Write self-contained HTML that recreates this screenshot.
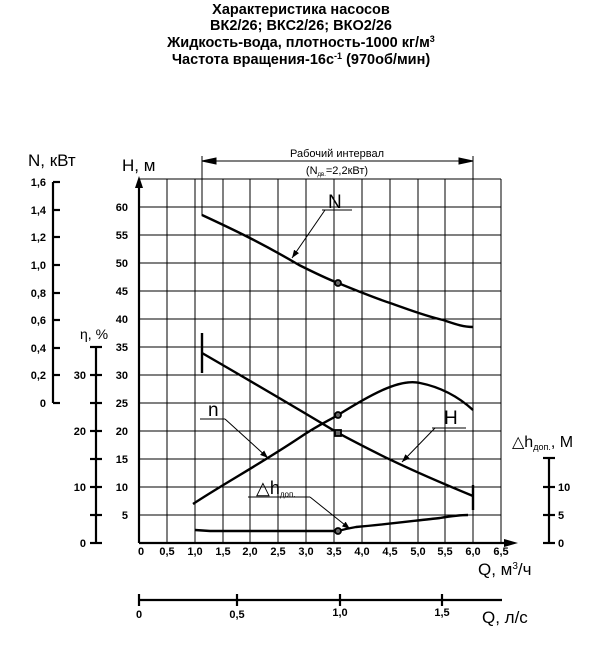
<!DOCTYPE html>
<html><head><meta charset="utf-8"><style>
html,body{margin:0;padding:0;background:#fff}
svg{display:block}
text{font-family:"Liberation Sans",sans-serif;fill:#000}
.t{font-weight:bold;font-size:14.5px}
.tk{font-weight:bold;font-size:11px}
.lb{font-size:17px}
</style></head><body>
<svg width="602" height="651" viewBox="0 0 602 651" xmlns="http://www.w3.org/2000/svg">
<defs><marker id="ar" markerWidth="8" markerHeight="6" refX="8" refY="3" orient="auto"><path d="M0,0 L8,3 L0,6 Z" fill="#000"/></marker></defs>
<g text-anchor="middle">
<text class="t" x="301" y="14">Характеристика насосов</text>
<text class="t" x="301" y="30">ВК2/26; ВКС2/26; ВКО2/26</text>
<text class="t" x="301" y="47">Жидкость-вода, плотность-1000 кг/м<tspan font-size="9" dy="-5">3</tspan></text>
<text class="t" x="301" y="64">Частота вращения-16с<tspan font-size="9" dy="-5">-1</tspan><tspan dy="5"> (970об/мин)</tspan></text>
</g>
<g stroke="#000" stroke-width="1">
<line x1="167" y1="179" x2="167" y2="543"/><line x1="195" y1="179" x2="195" y2="543"/><line x1="223" y1="179" x2="223" y2="543"/><line x1="250" y1="179" x2="250" y2="543"/><line x1="278" y1="179" x2="278" y2="543"/><line x1="306" y1="179" x2="306" y2="543"/><line x1="334" y1="179" x2="334" y2="543"/><line x1="362" y1="179" x2="362" y2="543"/><line x1="390" y1="179" x2="390" y2="543"/><line x1="418" y1="179" x2="418" y2="543"/><line x1="445" y1="179" x2="445" y2="543"/><line x1="473" y1="179" x2="473" y2="543"/><line x1="501" y1="179" x2="501" y2="543"/>
<line x1="139" y1="179" x2="501" y2="179"/><line x1="139" y1="207" x2="501" y2="207"/><line x1="139" y1="235" x2="501" y2="235"/><line x1="139" y1="263" x2="501" y2="263"/><line x1="139" y1="291" x2="501" y2="291"/><line x1="139" y1="319" x2="501" y2="319"/><line x1="139" y1="347" x2="501" y2="347"/><line x1="139" y1="375" x2="501" y2="375"/><line x1="139" y1="403" x2="501" y2="403"/><line x1="139" y1="431" x2="501" y2="431"/><line x1="139" y1="459" x2="501" y2="459"/><line x1="139" y1="487" x2="501" y2="487"/><line x1="139" y1="515" x2="501" y2="515"/>
</g>
<g stroke="#000" stroke-width="2.2" fill="none">
<line x1="139" y1="543" x2="139" y2="186"/><path d="M139,176 L135,188 L143,188 Z" fill="#000" stroke="none"/>
<line x1="139" y1="543" x2="506" y2="543"/><path d="M518,543 L504,539 L504,547 Z" fill="#000" stroke="none"/>
</g>
<g text-anchor="end">
<text class="tk" x="128" y="211">60</text><text class="tk" x="128" y="239">55</text><text class="tk" x="128" y="267">50</text><text class="tk" x="128" y="295">45</text><text class="tk" x="128" y="323">40</text><text class="tk" x="128" y="351">35</text><text class="tk" x="128" y="379">30</text><text class="tk" x="128" y="407">25</text><text class="tk" x="128" y="435">20</text><text class="tk" x="128" y="463">15</text><text class="tk" x="128" y="491">10</text><text class="tk" x="128" y="519">5</text>
</g>
<g text-anchor="middle">
<text class="tk" x="141" y="555">0</text><text class="tk" x="167" y="555">0,5</text><text class="tk" x="195" y="555">1,0</text><text class="tk" x="223" y="555">1,5</text><text class="tk" x="250" y="555">2,0</text><text class="tk" x="278" y="555">2,5</text><text class="tk" x="306" y="555">3,0</text><text class="tk" x="334" y="555">3,5</text><text class="tk" x="362" y="555">4,0</text><text class="tk" x="390" y="555">4,5</text><text class="tk" x="418" y="555">5,0</text><text class="tk" x="445" y="555">5,5</text><text class="tk" x="473" y="555">6,0</text><text class="tk" x="501" y="555">6,5</text>
</g>
<text class="lb" x="478" y="575">Q, м<tspan font-size="10" dy="-6">3</tspan><tspan dy="6">/ч</tspan></text>
<text class="lb" x="122" y="171">H, м</text>
<g stroke="#000" stroke-width="2.2">
<line x1="53" y1="182" x2="53" y2="403"/>
<line x1="53" y1="182" x2="60" y2="182"/><line x1="53" y1="210" x2="60" y2="210"/><line x1="53" y1="237" x2="60" y2="237"/><line x1="53" y1="265" x2="60" y2="265"/><line x1="53" y1="293" x2="60" y2="293"/><line x1="53" y1="320" x2="60" y2="320"/><line x1="53" y1="348" x2="60" y2="348"/><line x1="53" y1="375" x2="60" y2="375"/><line x1="53" y1="403" x2="60" y2="403"/>
</g>
<g text-anchor="end">
<text class="tk" x="46" y="186">1,6</text><text class="tk" x="46" y="214">1,4</text><text class="tk" x="46" y="241">1,2</text><text class="tk" x="46" y="269">1,0</text><text class="tk" x="46" y="297">0,8</text><text class="tk" x="46" y="324">0,6</text><text class="tk" x="46" y="352">0,4</text><text class="tk" x="46" y="379">0,2</text><text class="tk" x="46" y="407">0</text>
</g>
<text class="lb" x="28" y="166">N, кВт</text>
<g stroke="#000" stroke-width="2.2">
<line x1="96" y1="347" x2="96" y2="543"/>
<line x1="90" y1="347" x2="102" y2="347"/><line x1="90" y1="375" x2="102" y2="375"/><line x1="90" y1="403" x2="102" y2="403"/><line x1="90" y1="431" x2="102" y2="431"/><line x1="90" y1="459" x2="102" y2="459"/><line x1="90" y1="487" x2="102" y2="487"/><line x1="90" y1="515" x2="102" y2="515"/><line x1="90" y1="543" x2="102" y2="543"/>
</g>
<g text-anchor="end">
<text class="tk" x="86" y="379">30</text><text class="tk" x="86" y="435">20</text><text class="tk" x="86" y="491">10</text><text class="tk" x="86" y="547">0</text>
</g>
<text x="80" y="339" font-size="14">η, %</text>
<g stroke="#000" stroke-width="2.2">
<line x1="549" y1="458" x2="549" y2="543"/>
<line x1="543" y1="458" x2="555" y2="458"/><line x1="543" y1="487" x2="555" y2="487"/><line x1="543" y1="515" x2="555" y2="515"/><line x1="543" y1="543" x2="555" y2="543"/>
</g>
<text class="tk" x="558" y="491">10</text><text class="tk" x="558" y="519">5</text><text class="tk" x="558" y="547">0</text>
<text x="512" y="447" font-size="16">△h<tspan font-size="9" dy="3">доп.</tspan><tspan dy="-3">, М</tspan></text>
<g stroke="#000" stroke-width="2.2">
<line x1="139" y1="600" x2="502" y2="600"/>
<line x1="139" y1="594" x2="139" y2="606"/><line x1="237" y1="594" x2="237" y2="606"/><line x1="340" y1="594" x2="340" y2="606"/><line x1="442" y1="594" x2="442" y2="606"/>
</g>
<text class="tk" x="139" y="618" text-anchor="middle">0</text><text class="tk" x="237" y="618" text-anchor="middle">0,5</text><text class="tk" x="340" y="616" text-anchor="middle">1,0</text><text class="tk" x="442" y="616" text-anchor="middle">1,5</text>
<text class="lb" x="482" y="623">Q, л/с</text>
<g stroke="#000" stroke-width="1" fill="none">
<line x1="202" y1="156" x2="202" y2="216"/><line x1="473" y1="156" x2="473" y2="330"/>
<line x1="202" y1="161" x2="473" y2="161"/>
<path d="M202,161 L216,158 L216,164 Z" fill="#000"/><path d="M473,161 L459,158 L459,164 Z" fill="#000"/>
</g>
<text x="337" y="157" font-size="11" text-anchor="middle">Рабочий интервал</text>
<text x="337" y="174" font-size="11" text-anchor="middle">(N<tspan font-size="6" dy="2">дв.</tspan><tspan dy="-2">=2,2кВт)</tspan></text>
<g stroke="#000" stroke-width="2.4" fill="none">
<path d="M202,215 C230,228 260,242 299,265 C315,273 325,278 338,283 C360,292 375,298 390,303 C410,310 425,316 443,320 C455,324 463,327 473,327"/>
<path d="M202,353 C240,375 300,410 338,433 C370,450 400,466 473,496"/>
<line x1="202" y1="333" x2="202" y2="373"/><line x1="473" y1="485" x2="473" y2="510"/>
<path d="M193,504 C220,486 260,464 299,438 C318,425 330,420 338,415 C370,395 400,378 420,383 C445,388 462,400 473,410"/>
<path d="M195,530 L210,531 L338,531 C345,529 350,528 356,527 C390,524 420,520 440,518 C452,516 460,515 468,515"/>
</g>
<g fill="#666" stroke="#000" stroke-width="1.8">
<circle cx="338" cy="283" r="3"/><circle cx="338" cy="415" r="3"/><circle cx="338" cy="531" r="3"/><rect x="335" y="430" width="6" height="6"/>
</g>
<g stroke="#000" stroke-width="1" fill="none">
<line x1="322" y1="210" x2="352" y2="210"/><line x1="325" y1="210" x2="292" y2="258" marker-end="url(#ar)"/>
<line x1="432" y1="428" x2="466" y2="428"/><line x1="435" y1="428" x2="402" y2="462" marker-end="url(#ar)"/>
<line x1="200" y1="419" x2="225" y2="419"/><line x1="225" y1="419" x2="268" y2="458" marker-end="url(#ar)"/>
<line x1="248" y1="497" x2="310" y2="497"/><line x1="310" y1="497" x2="350" y2="529" marker-end="url(#ar)"/>
</g>
<text x="328" y="208" font-size="19">N</text>
<text x="444" y="424" font-size="19">H</text>
<text x="208" y="416" font-size="19">n</text>
<text x="256" y="494" font-size="18">△h<tspan font-size="8" dy="3">доп.</tspan></text>
</svg>
</body></html>
